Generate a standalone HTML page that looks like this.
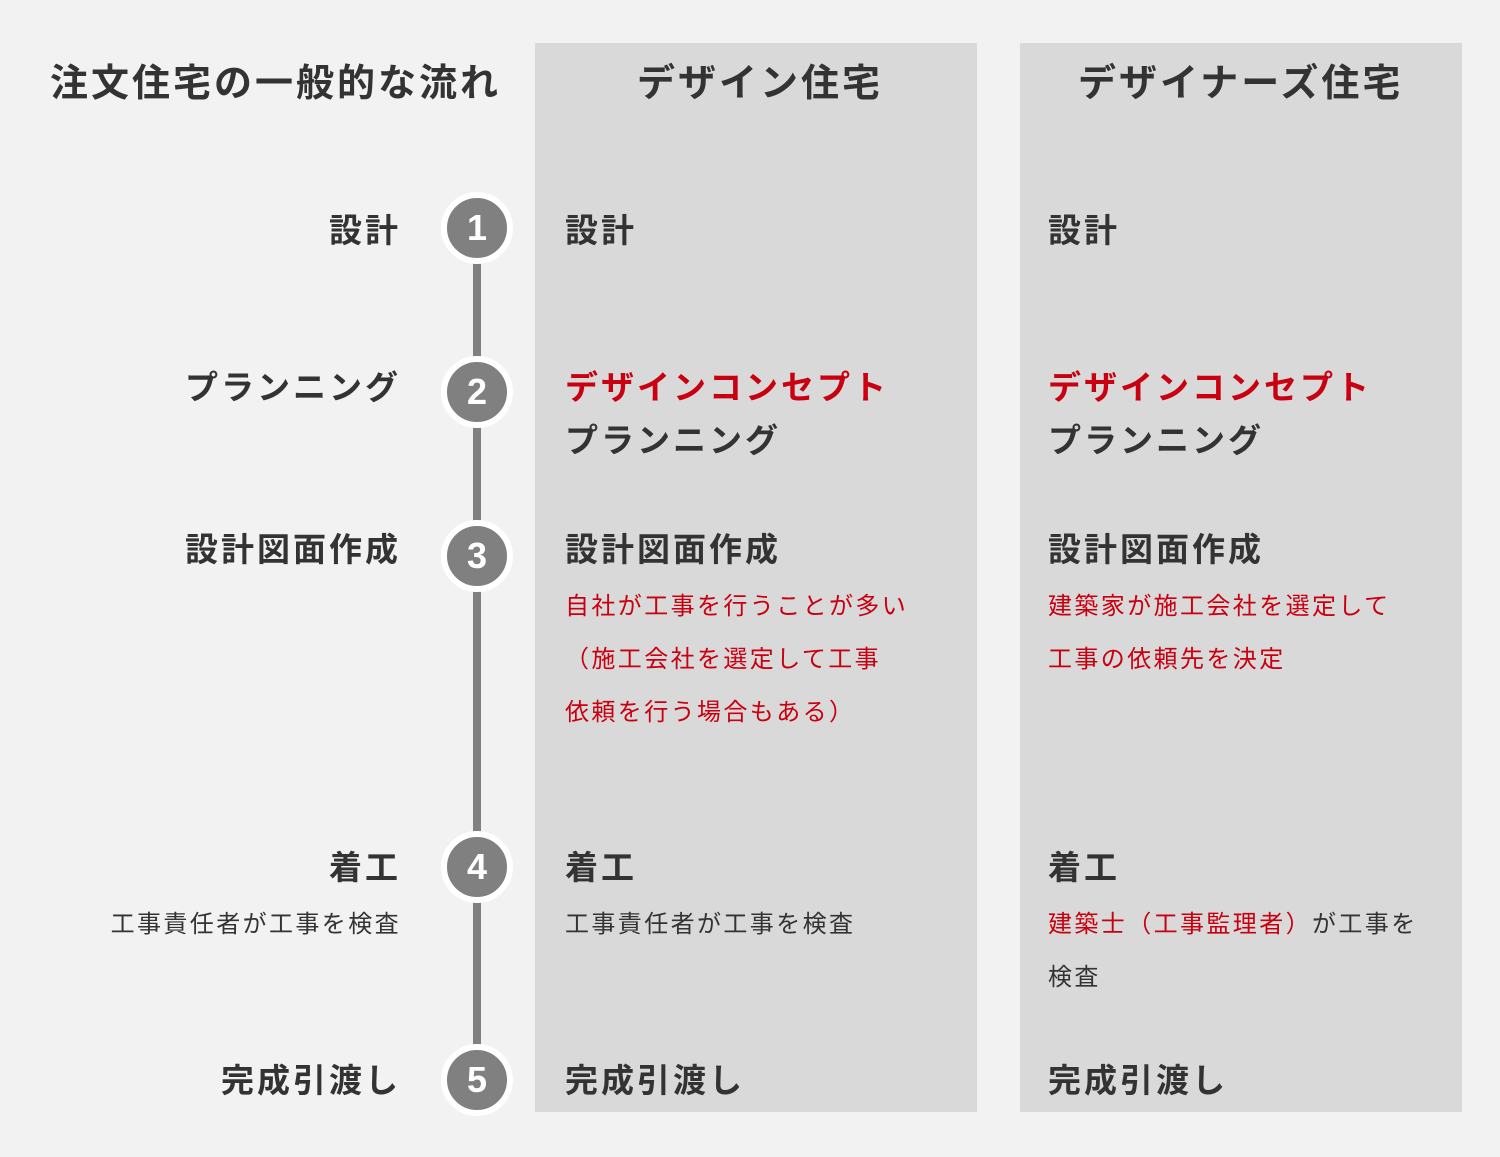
<!DOCTYPE html>
<html><head><meta charset="utf-8">
<style>
body{margin:0;width:1500px;height:1157px;background:#f2f2f2;position:relative;overflow:hidden;
font-family:"Liberation Sans","Noto Sans CJK JP",sans-serif;color:#333;}
.col{position:absolute;top:43px;height:1069px;width:442px;background:#d9d9d9;}
.t{position:absolute;white-space:nowrap;line-height:1;}
.h{font-size:38px;font-weight:bold;letter-spacing:3px;}
.b{font-size:33px;font-weight:bold;letter-spacing:3px;}
.s{font-size:24px;line-height:53px;letter-spacing:2.4px;}
.r{color:#c8000f;}
.L{right:1099px;text-align:right;}
.line{position:absolute;left:473px;width:8px;background:#808080;}
.c{position:absolute;left:441px;width:60px;height:60px;border-radius:50%;background:#808080;border:6px solid #fff;
color:#fff;font-size:36px;font-weight:bold;text-align:center;line-height:60px;font-family:"Liberation Sans",sans-serif;}
</style></head><body>
<div class="col" style="left:535px"></div>
<div class="col" style="left:1020px"></div>
<div class="line" style="top:228px;height:852px"></div>

<div class="t h" style="left:50px;top:65px">注文住宅の一般的な流れ</div>
<div class="t h" style="left:637px;top:65px">デザイン住宅</div>
<div class="t h" style="left:1078px;top:65px">デザイナーズ住宅</div>

<div class="c" style="top:192px">1</div>
<div class="c" style="top:356px">2</div>
<div class="c" style="top:520px">3</div>
<div class="c" style="top:831px">4</div>
<div class="c" style="top:1044px">5</div>

<div class="t b L" style="top:214px">設計</div>
<div class="t b L" style="top:371px">プランニング</div>
<div class="t b L" style="top:533px">設計図面作成</div>
<div class="t b L" style="top:851px">着工</div>
<div class="t s L" style="top:898px;right:1099px">工事責任者が工事を検査</div>
<div class="t b L" style="top:1064px">完成引渡し</div>

<div class="t b" style="left:565px;top:214px">設計</div>
<div class="t b r" style="left:565px;top:371px">デザインコンセプト</div>
<div class="t b" style="left:565px;top:424px">プランニング</div>
<div class="t b" style="left:565px;top:533px">設計図面作成</div>
<div class="t s r" style="left:565px;top:580px">自社が工事を行うことが多い<br>（施工会社を選定して工事<br>依頼を行う場合もある）</div>
<div class="t b" style="left:565px;top:851px">着工</div>
<div class="t s" style="left:565px;top:898px">工事責任者が工事を検査</div>
<div class="t b" style="left:565px;top:1064px">完成引渡し</div>

<div class="t b" style="left:1048px;top:214px">設計</div>
<div class="t b r" style="left:1048px;top:371px">デザインコンセプト</div>
<div class="t b" style="left:1048px;top:424px">プランニング</div>
<div class="t b" style="left:1048px;top:533px">設計図面作成</div>
<div class="t s r" style="left:1048px;top:580px">建築家が施工会社を選定して<br>工事の依頼先を決定</div>
<div class="t b" style="left:1048px;top:851px">着工</div>
<div class="t s" style="left:1048px;top:898px"><span class="r">建築士（工事監理者）</span>が工事を<br>検査</div>
<div class="t b" style="left:1048px;top:1064px">完成引渡し</div>
</body></html>
